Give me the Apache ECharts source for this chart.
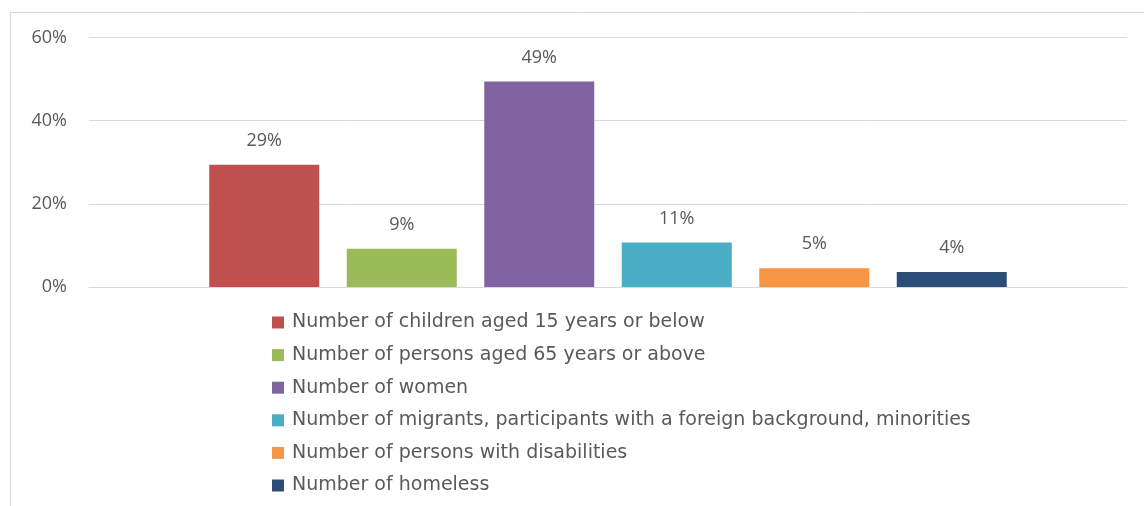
<!DOCTYPE html>
<html>
<head>
<meta charset="utf-8">
<script src="https://cdn.jsdelivr.net/npm/echarts@6/dist/echarts.min.js"></script>
<style>
html,body{margin:0;padding:0;background:#fff;}
#chart{width:1144px;height:506px;}
</style>
</head>
<body>
<div id="chart"></div>
<script>
const seriesNames = [
  'Number of children aged 15 years or below',
  'Number of persons aged 65 years or above',
  'Number of women',
  'Number of migrants, participants with a foreign background, minorities',
  'Number of persons with disabilities',
  'Number of homeless'
];
const seriesValues = [29.4, 9.2, 49.4, 10.7, 4.5, 3.6];
const seriesColors = ['#C0504D', '#9BBB59', '#8064A2', '#4BACC6', '#F79646', '#2C4D75'];
const yTicks = [0, 20, 40, 60];

const chart = echarts.init(document.getElementById('chart'));
const font = '"Open Sans", "Noto Sans", sans-serif';
const legendFont = '"DejaVu Sans", "Open Sans", sans-serif';
const option = {
  animation: false,
  backgroundColor: '#fff',
  graphic: [{
    type: 'rect',
    shape: {x: 10.5, y: 12.5, width: 1200, height: 600},
    style: {fill: 'none', stroke: '#d9d9d9', lineWidth: 1},
    silent: true
  }],
  grid: {left: 89, right: 17, top: 37.5, height: 249.5, containLabel: false},
  legend: {
    orient: 'vertical',
    left: 272,
    top: 313,
    padding: 0,
    itemWidth: 12,
    itemHeight: 12,
    itemGap: 13.6,
    icon: 'rect',
    textStyle: {color: '#595959', fontSize: 19, fontFamily: legendFont, padding: [0, 0, 0, 3]},
    data: seriesNames
  },
  xAxis: {
    type: 'category',
    data: [''],
    axisLine: {show: true, lineStyle: {color: '#d9d9d9'}},
    axisTick: {show: false},
    axisLabel: {show: false}
  },
  yAxis: {
    type: 'value',
    min: yTicks[0],
    max: yTicks[yTicks.length - 1],
    interval: 20,
    axisLine: {show: false},
    axisTick: {show: false},
    splitLine: {lineStyle: {color: '#d9d9d9', width: 1}},
    axisLabel: {color: '#595959', fontSize: 18, fontFamily: font, margin: 22, formatter: v => v + '%'}
  },
  series: seriesNames.map((name, i) => ({
    name: name,
    type: 'bar',
    data: [seriesValues[i]],
    barWidth: 110,
    barGap: '25%',
    itemStyle: {color: seriesColors[i]},
    label: {
      show: true,
      position: 'top',
      distance: 15,
      color: '#595959',
      fontSize: 18,
      fontFamily: font,
      formatter: p => Math.round(p.value) + '%'
    }
  }))
};
chart.setOption(option);
</script>
</body>
</html>
